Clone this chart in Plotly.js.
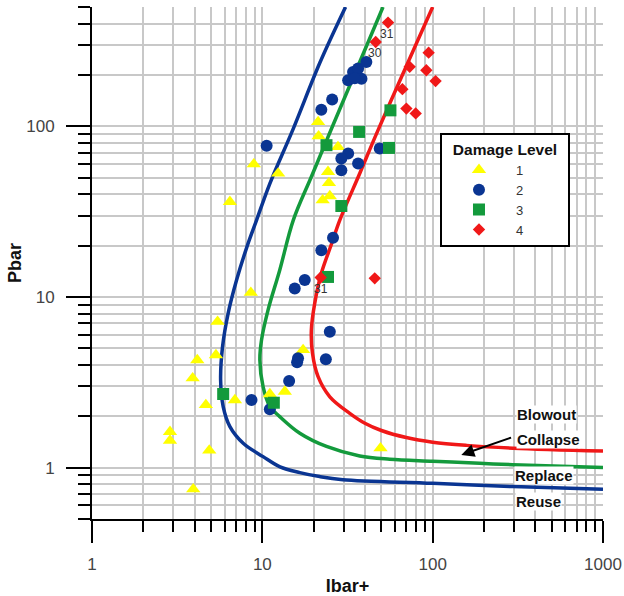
<!DOCTYPE html>
<html>
<head>
<meta charset="utf-8">
<script src="https://cdn.plot.ly/plotly-3.0.1.min.js"></script>
<style>html,body{margin:0;padding:0;background:#fff;}#chart{width:624px;height:596px;}</style>
</head>
<body>
<div id="chart"></div>
<script>
// Damage level 1 (yellow triangles)
const lvl1X = [2.87, 2.87, 3.93, 4.88, 4.66, 3.90, 4.15, 5.34, 5.46, 8.56, 6.90, 11.07, 13.55, 17.35, 49.4, 6.45, 8.91, 12.38, 21.25, 21.4, 27.8, 24.3, 24.6, 22.6, 24.9];
const lvl1Y = [1.62, 1.44, 0.747, 1.26, 2.33, 3.34, 4.27, 4.57, 7.16, 10.6, 2.49, 2.70, 2.79, 4.89, 1.30, 36.1, 60.0, 52.9, 106, 87.5, 75.7, 54.1, 46.6, 36.9, 39.0];
// Damage level 2 (blue circles)
const lvl2X = [10.6, 22.2, 25.7, 31.9, 34.1, 36.5, 38.2, 40.8, 34.9, 31.9, 29.1, 29.1, 36.5, 48.9, 26.0, 22.2, 15.5, 17.75, 24.9, 16.2, 16.0, 23.6, 14.37, 8.64, 11.07];
const lvl2Y = [76.8, 125, 143.5, 186, 208, 218, 190, 238, 191, 69.3, 64.8, 55.3, 60.6, 74.1, 22.2, 18.8, 11.2, 12.56, 6.26, 4.38, 4.15, 4.31, 3.22, 2.49, 2.20];
// Damage level 3 (green squares)
const lvl3X = [23.8, 37.0, 55.4, 56.5, 29.1, 24.3, 11.68, 5.89];
const lvl3Y = [77.5, 92.7, 74.7, 124, 34.1, 13.1, 2.40, 2.70];
// Damage level 4 (red diamonds)
const lvl4X = [54.7, 46.3, 94.7, 73.3, 91.8, 104, 66.4, 70.1, 79.5, 22.0, 45.7];
const lvl4Y = [405, 312, 270, 223, 213, 184, 165, 127, 119, 13.0, 12.85];
// Point labels
const ptLabelText = ['31', '30', '31'];
const ptLabelX = [54.1, 45.7, 22.2];
const ptLabelY = [346, 270, 11.1];

// Boundary curves
const reuseX = [30.8, 21.7, 15.2, 11.07, 9.25, 8.11, 7.06, 6.30, 5.84, 5.69, 5.89, 6.45, 7.72, 10.1, 12.7, 16.6, 21.7, 29.7, 100, 296, 1000];
const reuseY = [500, 234, 97, 46.2, 28.2, 19.6, 12.56, 8.02, 5.11, 3.26, 2.28, 1.74, 1.39, 1.16, 1.01, 0.935, 0.886, 0.85, 0.81, 0.774, 0.747];
const replaceX = [51.1, 25.5, 19.4, 15.2, 12.66, 10.8, 9.89, 9.67, 10.1, 11.07, 12.66, 16.6, 23.8, 37.3, 56.0, 100, 188.6, 296, 1000];
const replaceY = [500, 97, 50.6, 28.2, 14.4, 8.38, 5.59, 4.27, 2.98, 2.28, 1.99, 1.59, 1.33, 1.17, 1.12, 1.09, 1.06, 1.04, 1.0];
const collapseX = [100, 47.8, 37.3, 28.5, 25.5, 22.2, 20.3, 19.4, 19.7, 21.25, 24.9, 32.6, 40, 50, 70, 100, 157.7, 296, 1000];
const collapseY = [500, 94.9, 52.9, 28.2, 20.5, 13.75, 9.17, 6.40, 4.68, 3.41, 2.60, 2.08, 1.82, 1.65, 1.50, 1.41, 1.35, 1.30, 1.25];

const regionLabels = ['Blowout', 'Collapse', 'Replace', 'Reuse'];
const legendNames = ['1', '2', '3', '4'];

const xMajor = [1, 10, 100, 1000];
const xMinor = [2,3,4,5,6,7,8,9,20,30,40,50,60,70,80,90,200,300,400,500,600,700,800,900];
const yMajor = [1, 10, 100];
const yMinor = [0.5,0.6,0.7,0.8,0.9,2,3,4,5,6,7,8,9,20,30,40,50,60,70,80,90,200,300,400,500];

const FONT = 'Liberation Sans, Arial, sans-serif';
const L = Math.log10;

const traces = [
  {x: reuseX, y: reuseY, mode: 'lines', line: {color: '#0a3592', width: 3.5, shape: 'spline', smoothing: 1}, showlegend: false, hoverinfo: 'skip'},
  {x: replaceX, y: replaceY, mode: 'lines', line: {color: '#139a3c', width: 3.5, shape: 'spline', smoothing: 1}, showlegend: false, hoverinfo: 'skip'},
  {x: collapseX, y: collapseY, mode: 'lines', line: {color: '#f01818', width: 3.5, shape: 'spline', smoothing: 1}, showlegend: false, hoverinfo: 'skip'},
  {x: lvl1X, y: lvl1Y, mode: 'markers', name: legendNames[0], marker: {symbol: 'triangle-up', size: 12.5, color: '#ffff00'}},
  {x: lvl2X, y: lvl2Y, mode: 'markers', name: legendNames[1], marker: {symbol: 'circle', size: 12, color: '#0a3592'}},
  {x: lvl3X, y: lvl3Y, mode: 'markers', name: legendNames[2], marker: {symbol: 'square', size: 12, color: '#139a3c'}},
  {x: lvl4X, y: lvl4Y, mode: 'markers', name: legendNames[3], marker: {symbol: 'diamond', size: 9.5, color: '#f01818'}}
];

const annotations = [];
ptLabelText.forEach((t, i) => annotations.push({
  x: L(ptLabelX[i]), y: L(ptLabelY[i]), xref: 'x', yref: 'y', text: t, showarrow: false,
  font: {family: FONT, size: 12, color: '#333'}
}));
const regionPos = [[306.8, 2.035], [306.8, 1.467], [298.6, 0.894], [302.7, 0.632]];
regionLabels.forEach((t, i) => annotations.push({
  x: L(regionPos[i][0]), y: L(regionPos[i][1]), xref: 'x', yref: 'y', text: '<b>' + t + '</b>',
  showarrow: false, xanchor: 'left', yanchor: 'middle', bgcolor: 'white', borderpad: 0,
  font: {family: FONT, size: 15, color: '#111'}
}));
annotations.push({
  x: L(147.3), y: L(1.187), xref: 'x', yref: 'y', ax: L(294.5), ay: L(1.51), axref: 'x', ayref: 'y',
  text: '', showarrow: true, arrowhead: 2, arrowsize: 1.3, arrowwidth: 2, arrowcolor: '#000'
});

const gridC = '#c8c8c8';
const layout = {
  width: 624, height: 596,
  margin: {l: 92, r: 21, t: 7, b: 77},
  paper_bgcolor: 'white', plot_bgcolor: 'white',
  font: {family: FONT},
  showlegend: true,
  xaxis: {
    type: 'log', range: [0, 3],
    tickmode: 'array', tickvals: xMajor, ticktext: xMajor.map(String),
    ticks: 'outside', ticklen: 22, tickwidth: 2, tickcolor: '#000',
    ticklabelstandoff: 7,
    tickfont: {family: FONT, size: 17, color: '#444'},
    showgrid: true, gridcolor: gridC, gridwidth: 2,
    minor: {tickmode: 'array', tickvals: xMinor, ticks: 'outside', ticklen: 11, tickwidth: 2, tickcolor: '#000', showgrid: true, gridcolor: gridC, gridwidth: 2},
    showline: true, linecolor: '#000', linewidth: 2, zeroline: false,
    title: {text: '<b>Ibar+</b>', font: {family: FONT, size: 18, color: '#111'}, standoff: 8}
  },
  yaxis: {
    type: 'log', range: [L(0.5), L(500)],
    tickmode: 'array', tickvals: yMajor, ticktext: yMajor.map(String),
    ticks: 'outside', ticklen: 24, tickwidth: 2, tickcolor: '#000',
    ticklabelstandoff: 8,
    tickfont: {family: FONT, size: 17, color: '#444'},
    showgrid: true, gridcolor: gridC, gridwidth: 2,
    minor: {tickmode: 'array', tickvals: yMinor, ticks: 'outside', ticklen: 12, tickwidth: 2, tickcolor: '#000', showgrid: true, gridcolor: gridC, gridwidth: 2},
    showline: true, linecolor: '#000', linewidth: 2, zeroline: false,
    title: {text: '<b>Pbar</b>', font: {family: FONT, size: 18, color: '#111'}, standoff: 0}
  },
  legend: {
    x: 0.681, y: 0.7545, xanchor: 'left', yanchor: 'top',
    bgcolor: 'white', bordercolor: '#000', borderwidth: 2,
    itemwidth: 64, tracegroupgap: 0,
    font: {family: FONT, size: 13, color: '#333'},
    title: {text: '\u00a0\u00a0<b>Damage Level</b>\u00a0\u00a0', side: 'top center', font: {family: FONT, size: 15.5, color: '#111'}}
  },
  annotations: annotations
};

Plotly.newPlot('chart', traces, layout, {staticPlot: true, displayModeBar: false});
</script>
</body>
</html>
